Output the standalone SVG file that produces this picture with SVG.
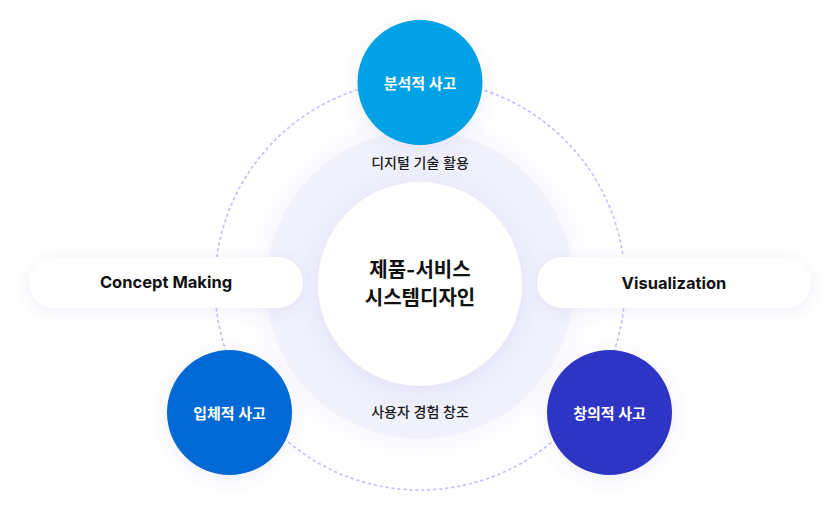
<svg xmlns="http://www.w3.org/2000/svg" width="840" height="512" viewBox="0 0 840 512">
  <defs>
    <style>
      .t { font-family: Inter, "Noto Sans CJK KR", "Noto Sans", sans-serif; text-anchor: middle; dominant-baseline: central; }
      .w { fill: #ffffff; font-size: 15px; font-weight: 700; }
      .d { fill: #1a1a1a; font-size: 14px; font-weight: 500; }
      .c { fill: #111111; font-size: 20px; font-weight: 700; }
      .p { fill: #111111; font-size: 16.5px; font-weight: 700; }
      .pill { fill: #ffffff; filter: url(#sh); }
      .dot { fill: none; stroke: #c4c4f6; stroke-width: 1.7; stroke-dasharray: 2 4; stroke-linecap: round; }
    </style>
    <filter id="sh" x="-30%" y="-60%" width="160%" height="220%">
      <feDropShadow dx="0" dy="3" stdDeviation="7" flood-color="#6060c0" flood-opacity="0.10"/>
    </filter>
    <filter id="shc" x="-40%" y="-40%" width="180%" height="180%">
      <feDropShadow dx="0" dy="4" stdDeviation="9" flood-color="#5a5ac8" flood-opacity="0.10"/>
    </filter>
    <filter id="glow" x="-30%" y="-30%" width="160%" height="160%">
      <feGaussianBlur stdDeviation="14"/>
    </filter>
    <radialGradient id="ringg" cx="0.5" cy="0.5" r="0.5">
      <stop offset="0.6" stop-color="#efeffb"/>
      <stop offset="1" stop-color="#f2f2fc"/>
    </radialGradient>
  </defs>

  <rect width="840" height="512" fill="#ffffff"/>

  <g id="connectors">
    <circle class="dot" cx="420" cy="285" r="205"/>
  </g>

  <g id="core">
    <circle cx="420" cy="285" r="162" fill="#f6f6fd" filter="url(#glow)"/>
    <circle cx="420" cy="285" r="154" fill="url(#ringg)"/>
    <circle cx="420" cy="284" r="102" fill="#ffffff" filter="url(#shc)"/>
    <text class="t c" x="420" y="270">제품-서비스</text>
    <text class="t c" x="420" y="298">시스템디자인</text>
    <text class="t d" x="420" y="162">디지털 기술 활용</text>
    <text class="t d" x="420" y="411">사용자 경험 창조</text>
  </g>

  <g id="node-analytic">
    <circle cx="420" cy="82.5" r="62.5" fill="#00a1e5" filter="url(#shc)"/>
    <text class="t w" x="420" y="83">분석적 사고</text>
  </g>

  <g id="node-spatial">
    <circle cx="229.5" cy="412.5" r="62.5" fill="#0169d6" filter="url(#shc)"/>
    <text class="t w" x="229.5" y="413">입체적 사고</text>
  </g>

  <g id="node-creative">
    <circle cx="609.5" cy="412.5" r="62.5" fill="#2d36c5" filter="url(#shc)"/>
    <text class="t w" x="609.5" y="413">창의적 사고</text>
  </g>

  <g id="node-concept">
    <rect class="pill" x="29" y="257" width="274" height="51" rx="25.5"/>
    <text class="t p" x="166" y="282">Concept Making</text>
  </g>

  <g id="node-visual">
    <rect class="pill" x="537" y="257" width="274" height="51" rx="25.5"/>
    <text class="t p" x="674" y="283">Visualization</text>
  </g>
</svg>
